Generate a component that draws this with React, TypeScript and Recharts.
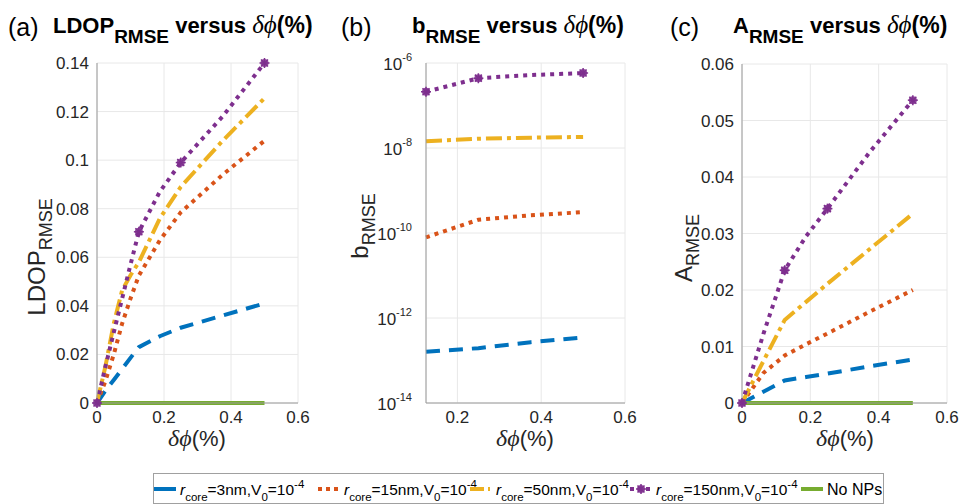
// @ts-nocheck
import React from "react";
import { LineChart, Line, XAxis, YAxis, CartesianGrid } from "recharts";

// panel (a) LDOP_RMSE
const xA = [0, 0.025, 0.05, 0.075, 0.1, 0.125, 0.1875, 0.25, 0.375, 0.5];
const blueA = [0, 0.005, 0.0095, 0.014, 0.0186, 0.023, 0.0275, 0.031, 0.036, 0.041];
const orangeA = [0, 0.009, 0.02, 0.0327, 0.043, 0.0525, 0.067, 0.0785, 0.094, 0.108];
const yellowA = [0, 0.015, 0.0327, 0.0464, 0.0526, 0.058, 0.076, 0.089, 0.108, 0.1255];
const purpleA = [0, 0.0149, 0.029, 0.043, 0.057, 0.0705, 0.087, 0.099, 0.118, 0.14];
const greenA = [0, 0, 0, 0, 0, 0, 0, 0, 0, 0];

// panel (b) b_RMSE (log)
const xB = [0.125, 0.25, 0.375, 0.5];
const blueB = [1.6e-13, 1.95e-13, 2.7e-13, 3.5e-13];
const orangeB = [7.9e-11, 2.05e-10, 2.6e-10, 3.1e-10];
const yellowB = [1.45e-8, 1.65e-8, 1.75e-8, 1.82e-8];
const purpleB = [2.1e-7, 4.4e-7, 5.2e-7, 5.8e-7];

// panel (c) A_RMSE
const xC = [0, 0.0625, 0.125, 0.1875, 0.25, 0.375, 0.5];
const blueC = [0, 0.002, 0.004, 0.0046, 0.0052, 0.0065, 0.0077];
const orangeC = [0, 0.0053, 0.0084, 0.0104, 0.0123, 0.0162, 0.02];
const yellowC = [0, 0.0074, 0.0147, 0.0179, 0.0211, 0.0273, 0.0335];
const purpleC = [0, 0.0122, 0.0235, 0.0295, 0.0344, 0.0445, 0.0536];
const greenC = [0, 0, 0, 0, 0, 0, 0];

const marksA = [0, 0.125, 0.25, 0.5];
const marksB = [0.125, 0.25, 0.5];

const ticksX = [0, 0.2, 0.4, 0.6];
const ticksXB = [0.2, 0.4, 0.6];
const ticksA = [0, 0.02, 0.04, 0.06, 0.08, 0.1, 0.12, 0.14];
const ticksB = [1e-14, 1e-12, 1e-10, 1e-8, 1e-6];
const ticksC = [0, 0.01, 0.02, 0.03, 0.04, 0.05, 0.06];

const legendSizes = ["3nm", "15nm", "50nm", "150nm"];

const C_BLUE = "#0072BD";
const C_ORANGE = "#D95319";
const C_YELLOW = "#EDB120";
const C_PURPLE = "#7E2F8E";
const C_GREEN = "#77AC30";

const FONT = "'Liberation Sans', Arial, sans-serif";
const SERIF = "'Liberation Serif', 'Times New Roman', serif";
const TICK = { fontSize: 17, fill: "#262626", fontFamily: FONT };
const AXIS = "#9a9a9a";
const GRID = "#e8e8e8";

const dataA = xA.map((x, i) => ({ x, blue: blueA[i], orange: orangeA[i], yellow: yellowA[i], purple: purpleA[i], green: greenA[i] }));
const dataB = xB.map((x, i) => ({ x, blue: blueB[i], orange: orangeB[i], yellow: yellowB[i], purple: purpleB[i] }));
const dataC = xC.map((x, i) => ({ x, blue: blueC[i], orange: orangeC[i], yellow: yellowC[i], purple: purpleC[i], green: greenC[i] }));

const fmt = (v) => String(+v.toFixed(3));

const Asterisk = ({ cx, cy }) => (
  <g>
    <circle cx={cx} cy={cy} r={4} fill={C_PURPLE} opacity={0.85} />
    <line x1={cx - 5} y1={cy} x2={cx + 5} y2={cy} stroke={C_PURPLE} strokeWidth={1.5} />
    <line x1={cx} y1={cy - 5} x2={cx} y2={cy + 5} stroke={C_PURPLE} strokeWidth={1.5} />
    <line x1={cx - 3.5} y1={cy - 3.5} x2={cx + 3.5} y2={cy + 3.5} stroke={C_PURPLE} strokeWidth={1.5} />
    <line x1={cx - 3.5} y1={cy + 3.5} x2={cx + 3.5} y2={cy - 3.5} stroke={C_PURPLE} strokeWidth={1.5} />
  </g>
);

const markDot = (marks) => (props) => {
  const { cx, cy, payload, index } = props;
  if (!marks.includes(payload.x)) return <g key={"d" + index} />;
  return (
    <g key={"d" + index}>
      <Asterisk cx={cx} cy={cy} />
    </g>
  );
};

const LogTick = ({ x, y, payload }) => {
  const e = Math.round(Math.log10(payload.value));
  return (
    <text x={x - 6} y={y + 7} textAnchor="end" fontFamily={FONT} fill="#262626">
      <tspan fontSize={17}>10</tspan>
      <tspan fontSize={11} dy={-9}>{e}</tspan>
    </text>
  );
};

function Series({ green, marks }) {
  return [
    <Line key="b" dataKey="blue" stroke={C_BLUE} strokeWidth={4} strokeDasharray="14 9" dot={false} isAnimationActive={false} type="linear" />,
    <Line key="o" dataKey="orange" stroke={C_ORANGE} strokeWidth={4} strokeDasharray="4 5" dot={false} isAnimationActive={false} type="linear" />,
    <Line key="y" dataKey="yellow" stroke={C_YELLOW} strokeWidth={4} strokeDasharray="16 5 4 5" dot={false} isAnimationActive={false} type="linear" />,
    <Line key="p" dataKey="purple" stroke={C_PURPLE} strokeWidth={4} strokeDasharray="4 5" dot={markDot(marks)} isAnimationActive={false} type="linear" />,
    green ? <Line key="g" dataKey="green" stroke={C_GREEN} strokeWidth={4} dot={false} isAnimationActive={false} type="linear" /> : null,
  ];
}

function LegendEntry({ x, kind, label }) {
  const y = 489;
  let sample;
  if (kind === "blue") sample = <line x1={x} y1={y} x2={x + 22} y2={y} stroke={C_BLUE} strokeWidth={4} />;
  if (kind === "orange") sample = <line x1={x} y1={y} x2={x + 22} y2={y} stroke={C_ORANGE} strokeWidth={4} strokeDasharray="4 4" />;
  if (kind === "yellow") sample = <line x1={x} y1={y} x2={x + 22} y2={y} stroke={C_YELLOW} strokeWidth={4} strokeDasharray="14 4 2 4" />;
  if (kind === "purple")
    sample = (
      <g>
        <line x1={x} y1={y} x2={x + 22} y2={y} stroke={C_PURPLE} strokeWidth={4} strokeDasharray="4 4" />
        <Asterisk cx={x + 11} cy={y} />
      </g>
    );
  if (kind === "green") sample = <line x1={x} y1={y} x2={x + 22} y2={y} stroke={C_GREEN} strokeWidth={4} />;
  return (
    <g>
      {sample}
      {label === "none" ? (
        <text x={x + 26} y={495} fontSize={16} fontFamily={FONT} fill="#000">No NPs</text>
      ) : (
        <text x={x + 26} y={495} fontSize={15.5} fontFamily={FONT} fill="#000">
          <tspan fontStyle="italic">r</tspan>
          <tspan fontSize={11.5} dy={6}>core</tspan>
          <tspan dy={-6}>{"=" + label + ",V"}</tspan>
          <tspan fontSize={11.5} dy={6}>0</tspan>
          <tspan dy={-6}>=10</tspan>
          <tspan fontSize={11.5} dy={-7}>-4</tspan>
        </text>
      )}
    </g>
  );
}

function Overlay() {
  const title = (x, main) => (
    <text x={x} y={33} fontSize={22} fontWeight="bold" fontFamily={FONT} fill="#000">
      {main}
      <tspan fontSize={19} dy={10}>RMSE</tspan>
      <tspan dy={-10}> versus </tspan>
      <tspan fontFamily={SERIF} fontStyle="italic" fontWeight="normal" fontSize={25}>δϕ</tspan>
      <tspan fontSize={23}>(%)</tspan>
    </text>
  );
  const xlabel = (cx) => (
    <text x={cx} y={446} textAnchor="middle" fontSize={22} fontFamily={FONT} fill="#262626">
      <tspan fontFamily={SERIF} fontStyle="italic" fontSize={24}>δϕ</tspan>
      <tspan>(%)</tspan>
    </text>
  );
  const ylabel = (x, y, main) => (
    <text transform={`translate(${x},${y}) rotate(-90)`} textAnchor="middle" fontSize={24} fontFamily={FONT} fill="#262626">
      {main}
      <tspan fontSize={18} dy={7}>RMSE</tspan>
    </text>
  );
  return (
    <svg width={960} height={504} style={{ position: "absolute", left: 0, top: 0, pointerEvents: "none" }}>
      <text x={8} y={36} fontSize={25} fontFamily={FONT} fill="#000">(a)</text>
      <text x={341} y={36} fontSize={25} fontFamily={FONT} fill="#000">(b)</text>
      <text x={670} y={36} fontSize={25} fontFamily={FONT} fill="#000">(c)</text>
      {title(53, "LDOP")}
      {title(412, "b")}
      {title(733, "A")}
      {xlabel(197)}
      {xlabel(525)}
      {xlabel(845)}
      {ylabel(45, 257, "LDOP")}
      {ylabel(368, 226, "b")}
      {ylabel(692, 248, "A")}
      <rect x={153.5} y={473.5} width={730} height={30} fill="#fff" stroke="#a0a0a0" strokeWidth={1} />
      <LegendEntry x={154} kind="blue" label={legendSizes[0]} />
      <LegendEntry x={318} kind="orange" label={legendSizes[1]} />
      <LegendEntry x={470} kind="yellow" label={legendSizes[2]} />
      <LegendEntry x={630} kind="purple" label={legendSizes[3]} />
      <LegendEntry x={801} kind="green" label="none" />
    </svg>
  );
}

export default function App() {
  return (
    <div style={{ position: "absolute", left: 0, top: 0, width: 960, height: 504, background: "#fff" }}>
      <div style={{ position: "absolute", left: 0, top: 0 }}>
        <LineChart width={320} height={460} data={dataA} margin={{ top: 63, right: 22, left: 37, bottom: 27 }}>
          <CartesianGrid stroke={GRID} />
          <XAxis dataKey="x" type="number" domain={[0, 0.6]} ticks={ticksX} tickFormatter={fmt} height={30} tick={TICK} stroke={AXIS} tickLine={false} />
          <YAxis type="number" domain={[0, 0.14]} ticks={ticksA} tickFormatter={fmt} width={60} tick={TICK} stroke={AXIS} tickLine={false} />
          {Series({ green: true, marks: marksA })}
        </LineChart>
      </div>
      <div style={{ position: "absolute", left: 320, top: 0 }}>
        <LineChart width={320} height={460} data={dataB} margin={{ top: 63, right: 15, left: 46, bottom: 27 }}>
          <CartesianGrid stroke={GRID} />
          <XAxis dataKey="x" type="number" domain={[0.125, 0.6]} ticks={ticksXB} tickFormatter={fmt} height={30} tick={TICK} stroke={AXIS} tickLine={false} />
          <YAxis type="number" scale="log" domain={[1e-14, 1e-6]} ticks={ticksB} width={60} tick={<LogTick />} stroke={AXIS} tickLine={false} allowDataOverflow />
          {Series({ green: false, marks: marksB })}
        </LineChart>
      </div>
      <div style={{ position: "absolute", left: 640, top: 0 }}>
        <LineChart width={320} height={460} data={dataC} margin={{ top: 64, right: 13, left: 42, bottom: 27 }}>
          <CartesianGrid stroke={GRID} />
          <XAxis dataKey="x" type="number" domain={[0, 0.6]} ticks={ticksX} tickFormatter={fmt} height={30} tick={TICK} stroke={AXIS} tickLine={false} />
          <YAxis type="number" domain={[0, 0.06]} ticks={ticksC} tickFormatter={fmt} width={60} tick={TICK} stroke={AXIS} tickLine={false} />
          {Series({ green: true, marks: marksA })}
        </LineChart>
      </div>
      <Overlay />
    </div>
  );
}
